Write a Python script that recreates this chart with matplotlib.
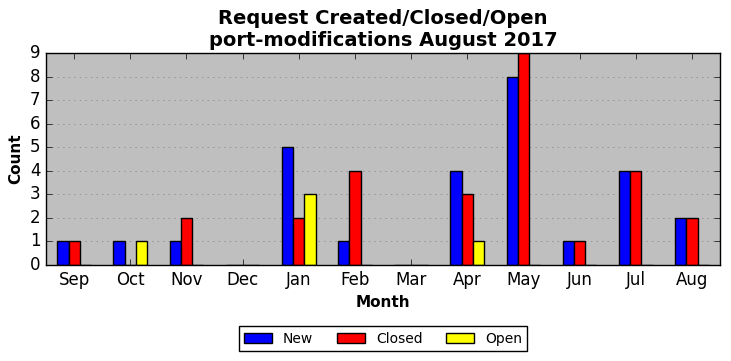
import numpy as np
import matplotlib
matplotlib.use('Agg')
from matplotlib import pyplot as plt

plt.style.use('classic')

months = ['Sep', 'Oct', 'Nov', 'Dec', 'Jan', 'Feb', 'Mar', 'Apr', 'May', 'Jun', 'Jul', 'Aug']
new = [1, 1, 1, 0, 5, 1, 0, 4, 8, 1, 4, 2]
closed = [1, 0, 2, 0, 2, 4, 0, 3, 9, 1, 4, 2]
open_ = [0, 1, 0, 0, 3, 0, 0, 1, 0, 0, 0, 0]

x = np.arange(len(months))
w = 0.2

fig = plt.figure(figsize=(7.31, 3.61), dpi=100)
fig.patch.set_facecolor('white')
ax = fig.add_axes([0.063, 0.266, 0.922, 0.587])
ax.set_facecolor('#bfbfbf')

ax.bar(x - w, new, w, color='blue', edgecolor='black', label='New', align='center')
ax.bar(x, closed, w, color='red', edgecolor='black', label='Closed', align='center')
ax.bar(x + w, open_, w, color='yellow', edgecolor='black', label='Open', align='center')

ax.set_xlim(-0.5, 11.5)
ax.set_ylim(0, 9)
ax.set_xticks(x)
ax.set_xticklabels(months, fontsize=12)
ax.set_yticks(range(10))
ax.tick_params(axis='y', labelsize=12)
ax.yaxis.grid(True, linestyle=':', color='gray')
ax.set_axisbelow(True)

ax.set_xlabel('Month', fontsize=11, fontweight='bold')
ax.set_ylabel('Count', fontsize=11, fontweight='bold')
ax.set_title('Request Created/Closed/Open\nport-modifications August 2017',
             fontsize=14, fontweight='bold')

ax.legend(loc='upper center', bbox_to_anchor=(0.5, -0.255), ncol=3,
          fontsize=10, frameon=True, columnspacing=1.7)

fig.savefig('out.png', dpi=100, facecolor='white')
